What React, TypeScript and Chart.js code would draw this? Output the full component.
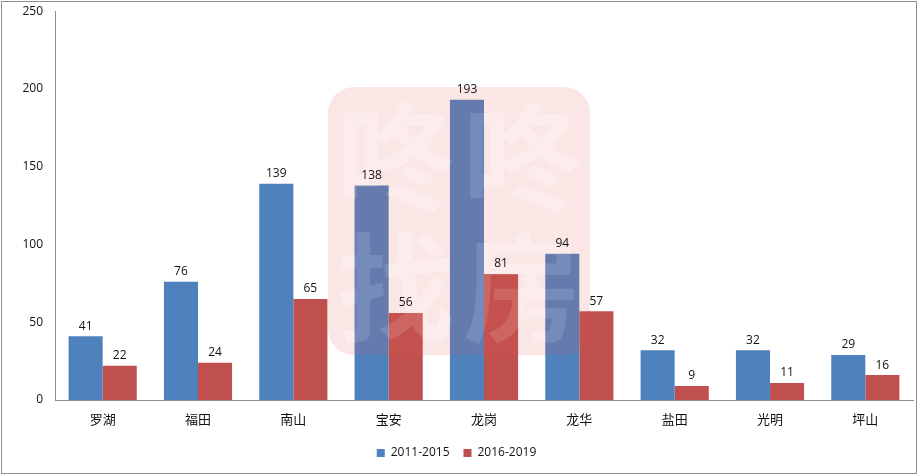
import React, { useEffect, useRef } from "react";
import { Chart, registerables } from "chart.js";

Chart.register(...registerables);

const categories = ["罗湖", "福田", "南山", "宝安", "龙岗", "龙华", "盐田", "光明", "坪山"];
const series2011 = [41, 76, 139, 138, 193, 94, 32, 32, 29];
const series2016 = [22, 24, 65, 56, 81, 57, 9, 11, 16];
const seriesNames = ["2011-2015", "2016-2019"];
const yTicks = { min: 0, max: 250, step: 50 };
const watermarkChars = ["咚", "咚", "找", "房"];

const FONT = '"Open Sans", "Noto Sans CJK SC", sans-serif';

const valueLabels = {
  id: "valueLabels",
  afterDatasetsDraw(chart: any) {
    const ctx = chart.ctx;
    ctx.save();
    ctx.font = `12px ${FONT}`;
    ctx.fillStyle = "#111";
    ctx.textAlign = "center";
    ctx.textBaseline = "bottom";
    chart.data.datasets.forEach((ds: any, i: number) => {
      const meta = chart.getDatasetMeta(i);
      meta.data.forEach((bar: any, j: number) => {
        ctx.fillText(String(ds.data[j]), bar.x, bar.y - 4);
      });
    });
    ctx.restore();
  },
};

const watermark = {
  id: "watermark",
  afterDatasetsDraw(chart: any) {
    const ctx = chart.ctx;
    const x = 328, y = 87, w = 262, h = 268, r = 26;
    const off = document.createElement("canvas");
    off.width = chart.width;
    off.height = chart.height;
    const o = off.getContext("2d")!;
    o.fillStyle = "rgba(225,90,90,0.15)";
    o.beginPath();
    o.roundRect(x, y, w, h, r);
    o.fill();
    o.globalCompositeOperation = "destination-out";
    o.font = `bold 118px "Noto Sans CJK SC", sans-serif`;
    o.textAlign = "center";
    o.textBaseline = "middle";
    const pos = [[396, 158], [522, 158], [396, 288], [522, 288]];
    watermarkChars.forEach((c, i) => o.fillText(c, pos[i][0], pos[i][1]));
    ctx.save();
    ctx.drawImage(off, 0, 0);
    ctx.globalAlpha = 0.12;
    ctx.fillStyle = "#fff";
    ctx.font = `bold 118px "Noto Sans CJK SC", sans-serif`;
    ctx.textAlign = "center";
    ctx.textBaseline = "middle";
    watermarkChars.forEach((c, i) => ctx.fillText(c, pos[i][0], pos[i][1]));
    ctx.restore();
  },
};

const frame = {
  id: "frame",
  afterDraw(chart: any) {
    const ctx = chart.ctx;
    ctx.save();
    ctx.strokeStyle = "#8c8c8c";
    ctx.lineWidth = 1;
    ctx.strokeRect(1.5, 1.5, chart.width - 3, chart.height - 3);
    ctx.restore();
  },
};

export default function App() {
  const ref = useRef<HTMLCanvasElement>(null);
  useEffect(() => {
    document.body.style.margin = "0";
    const chart = new Chart(ref.current!, {
      type: "bar",
      data: {
        labels: categories,
        datasets: [
          { label: seriesNames[0], data: series2011, backgroundColor: "#4F81BD", categoryPercentage: 0.715, barPercentage: 1 },
          { label: seriesNames[1], data: series2016, backgroundColor: "#C0504D", categoryPercentage: 0.715, barPercentage: 1 },
        ],
      },
      options: {
        responsive: false,
        animation: false,
        layout: { padding: { top: 1, right: 5, bottom: 6, left: 0 } },
        plugins: {
          tooltip: { enabled: false },
          legend: {
            position: "bottom",
            labels: {
              boxWidth: 8,
              boxHeight: 8,
              padding: 14,
              color: "#111",
              font: { family: FONT, size: 12 },
            },
          },
        },
        scales: {
          x: {
            grid: { display: false },
            border: { display: true, color: "#8c8c8c" },
            ticks: { color: "#111", font: { family: FONT, size: 13 }, padding: 4 },
            afterFit(s: any) { s.height = 33; },
          },
          y: {
            min: yTicks.min,
            max: yTicks.max,
            grid: { display: false },
            border: { display: true, color: "#8c8c8c" },
            ticks: { stepSize: yTicks.step, color: "#111", font: { family: FONT, size: 12 }, padding: 4 },
            afterFit(s: any) { s.width = 55; },
          },
        },
      },
      plugins: [watermark, valueLabels, frame],
    });
    return () => chart.destroy();
  }, []);
  return (
    <div style={{ position: "absolute", left: 0, top: 0, width: 918, height: 475, background: "#fff" }}>
      <canvas ref={ref} width={918} height={475} />
    </div>
  );
}
